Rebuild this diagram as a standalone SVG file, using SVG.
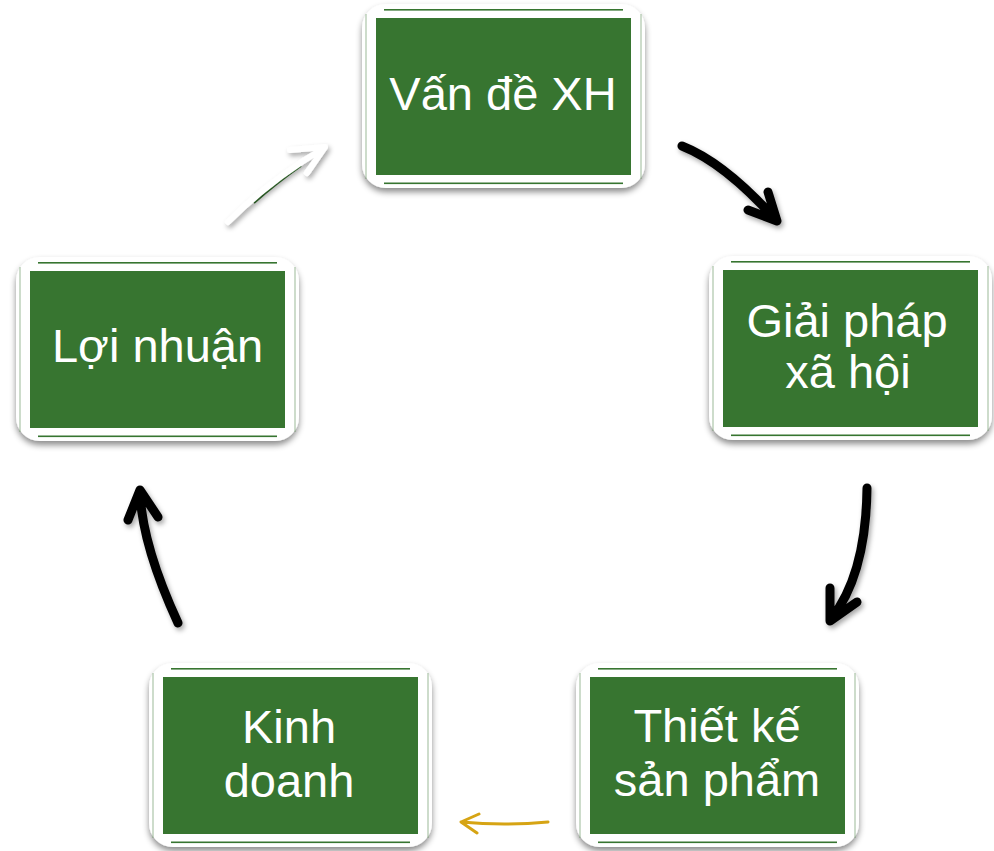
<svg xmlns="http://www.w3.org/2000/svg" width="994" height="851" viewBox="0 0 994 851">
  <defs>
    <filter id="fshadow" x="-10%" y="-10%" width="120%" height="125%">
      <feDropShadow dx="0" dy="4" stdDeviation="3" flood-color="#000" flood-opacity="0.45"/>
    </filter>
    <filter id="ashadow" x="-30%" y="-30%" width="160%" height="160%">
      <feDropShadow dx="2" dy="3" stdDeviation="2.5" flood-color="#000" flood-opacity="0.35"/>
    </filter>
  </defs>
  <style>
    .frame { fill: #ffffff; filter: url(#fshadow); }
    .edge { fill: #377530; }
    .side { opacity: 0.25; }
    .fill { fill: #377530; }
    .lbl { font-family: "Liberation Sans", Arial, sans-serif; font-size: 47px; fill: #ffffff; text-anchor: middle; }
    .blk { fill: none; stroke: #000000; stroke-width: 9; stroke-linecap: round; stroke-linejoin: round; filter: url(#ashadow); }
    .wht { fill: none; stroke: #ffffff; stroke-width: 6; stroke-linecap: round; stroke-linejoin: round; filter: url(#ashadow); }
    .gld { fill: none; stroke: #D6A414; stroke-width: 3; stroke-linecap: round; stroke-linejoin: round; }
  </style>
  <rect width="994" height="851" fill="#ffffff"/>

  <g id="n1" transform="translate(376,18)">
    <rect class="frame" x="-14" y="-14" width="283" height="184" rx="24"/>
    <rect class="edge" x="8" y="-9" width="239" height="1.6"/>
    <rect class="edge" x="8" y="164.5" width="239" height="1.6"/>
    <rect class="edge side" x="-11" y="-4" width="2" height="165"/>
    <rect class="edge side" x="264" y="-4" width="2" height="165"/>
    <rect class="fill" x="0" y="0" width="255" height="157"/>
    <text class="lbl" x="127" y="92">Vấn đề XH</text>
  </g>

  <g id="n2" transform="translate(723,270)">
    <rect class="frame" x="-14" y="-14" width="283" height="184" rx="24"/>
    <rect class="edge" x="8" y="-9" width="239" height="1.6"/>
    <rect class="edge" x="8" y="164.5" width="239" height="1.6"/>
    <rect class="edge side" x="-11" y="-4" width="2" height="165"/>
    <rect class="edge side" x="264" y="-4" width="2" height="165"/>
    <rect class="fill" x="0" y="0" width="255" height="157"/>
    <text class="lbl" x="124" y="67">Giải pháp</text>
    <text class="lbl" x="125" y="118">xã hội</text>
  </g>

  <g id="n3" transform="translate(30,271)">
    <rect class="frame" x="-14" y="-14" width="283" height="184" rx="24"/>
    <rect class="edge" x="8" y="-9" width="239" height="1.6"/>
    <rect class="edge" x="8" y="164.5" width="239" height="1.6"/>
    <rect class="edge side" x="-11" y="-4" width="2" height="165"/>
    <rect class="edge side" x="264" y="-4" width="2" height="165"/>
    <rect class="fill" x="0" y="0" width="255" height="157"/>
    <text class="lbl" x="127.5" y="91">Lợi nhuận</text>
  </g>

  <g id="n4" transform="translate(163,677)">
    <rect class="frame" x="-14" y="-14" width="283" height="184" rx="24"/>
    <rect class="edge" x="8" y="-9" width="239" height="1.6"/>
    <rect class="edge" x="8" y="164.5" width="239" height="1.6"/>
    <rect class="edge side" x="-11" y="-4" width="2" height="165"/>
    <rect class="edge side" x="264" y="-4" width="2" height="165"/>
    <rect class="fill" x="0" y="0" width="255" height="157"/>
    <text class="lbl" x="126" y="66">Kinh</text>
    <text class="lbl" x="126" y="120">doanh</text>
  </g>

  <g id="n5" transform="translate(590,677)">
    <rect class="frame" x="-14" y="-14" width="283" height="184" rx="24"/>
    <rect class="edge" x="8" y="-9" width="239" height="1.6"/>
    <rect class="edge" x="8" y="164.5" width="239" height="1.6"/>
    <rect class="edge side" x="-11" y="-4" width="2" height="165"/>
    <rect class="edge side" x="264" y="-4" width="2" height="165"/>
    <rect class="fill" x="0" y="0" width="255" height="157"/>
    <text class="lbl" x="127" y="65">Thiết kế</text>
    <text class="lbl" x="127" y="119">sản phẩm</text>
  </g>

  <g id="connectors">
    <path class="blk" d="M682,146 Q725,163 776,220 M768,192 L777,221 L748,210"/>
    <path class="blk" d="M867,488 Q866,575 831,619 M830,588 L830,621 L857,602"/>
    <path class="blk" d="M178,623 Q142,545 140,492 M128,520 L140,490 L158,517"/>
    <path d="M254,203 Q278,182 301,166" fill="none" stroke="#377530" stroke-width="2"/>
    <path class="wht" d="M228,222 Q270,180 324,148 M290,150 L325,147 L307,173"/>
    <path class="gld" d="M548,822 Q504,826 461,822 M479,814 L461,822 L477,833"/>
  </g>
</svg>
